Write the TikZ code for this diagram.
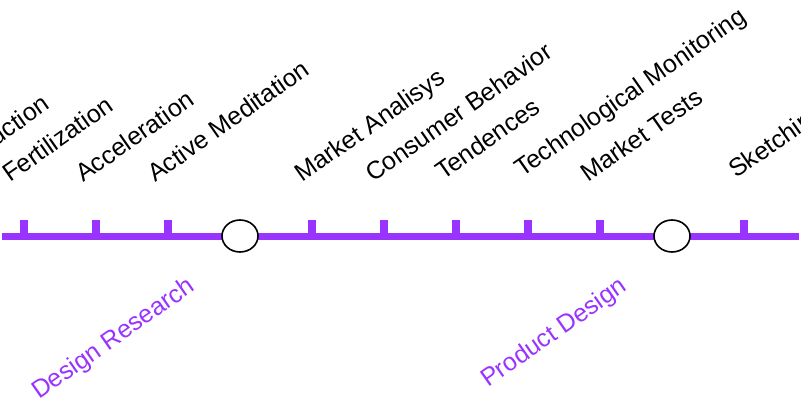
\documentclass[tikz,border=0pt]{standalone}
\usepackage{fontspec}
\setmainfont{Liberation Sans}
\usetikzlibrary{positioning,shapes.geometric}
\definecolor{phasepurple}{RGB}{153,51,255}

\begin{document}
\begin{tikzpicture}[x=1pt,y=1pt,
steplabel/.style={rotate=35,anchor=base west,inner sep=0pt,font=\fontsize{25}{30}\selectfont},
phaselabel/.style={steplabel,text=phasepurple},
milestone/.style={draw=black,line width=1.6pt,fill=white,ellipse,minimum width=36pt,minimum height=32pt,inner sep=0pt}]
\useasboundingbox (0,0) rectangle (801,408);
\clip (0,0) rectangle (801,408);
\coordinate (start) at (2,172);
\coordinate (end) at (799,172);
\draw[phasepurple,line width=7pt] (start)--(end);
\foreach \x in {24,96,168,312,384,456,528,600,744}
  \draw[phasepurple,line width=8pt] (\x,172)--(\x,188);
\node[milestone] (research) at (240,172) {};
\node[milestone] (product) at (672,172) {};
\node[steplabel] (intro) at (-56,225) {Introduction};
\node[steplabel] (fert) at (10,225) {Fertilization};
\node[steplabel] (accel) at (83,225) {Acceleration};
\node[steplabel] (medit) at (155,225) {Active Meditation};
\node[steplabel] (market) at (302,225) {Market Analisys};
\node[steplabel] (consumer) at (373,225) {Consumer Behavior};
\node[steplabel] (tend) at (443,227) {Tendences};
\node[steplabel] (tech) at (522,230) {Technological Monitoring};
\node[steplabel] (tests) at (588,225) {Market Tests};
\node[steplabel] (sketch) at (736,229) {Sketching};
\node[phaselabel] (researchlabel) at (39,8) {Design Research};
\node[phaselabel] (productlabel) at (488,20) {Product Design};
\end{tikzpicture}
\end{document}
